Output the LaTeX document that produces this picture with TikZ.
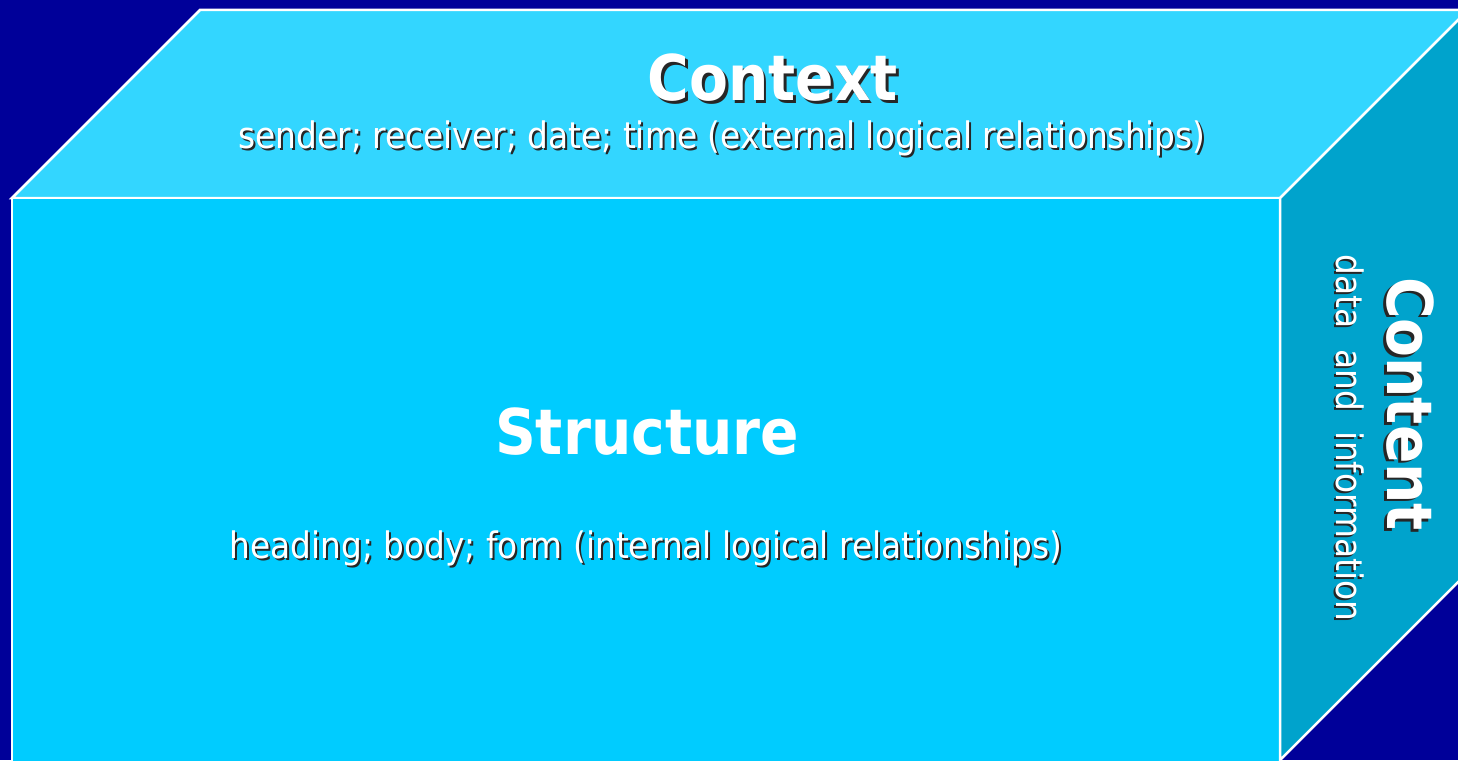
\documentclass[tikz,border=0pt]{standalone}
\usepackage{fontspec}
\setmainfont{DejaVu Sans Condensed}
\usetikzlibrary{positioning}
\definecolor{night}{HTML}{000099}
\definecolor{lid}{HTML}{33D6FF}
\definecolor{front}{HTML}{00CCFF}
\definecolor{side}{HTML}{00A3CC}
\newcommand{\edge}{white}
\tikzset{
  head/.style={font=\fontsize{63}{63}\selectfont\bfseries, text=white, inner sep=0pt},
  note/.style={font=\fontsize{36.5}{36.5}\selectfont, text=white, inner sep=0pt},
  shade/.style={text=black!85}
}

\begin{document}
\begin{tikzpicture}[x=1pt,y=-1pt]

% GRID LINES - COMMENT OUT WHEN DONE
%\draw[step=100,gray,very thin] (0,0) grid (1458,760);

% background
\useasboundingbox (0,0) rectangle (1458,760);
\clip (0,0) rectangle (1458,760);
\fill[night] (0,0) rectangle (1458,760);

% box
\filldraw[fill=lid, draw=\edge, line width=2.5pt] (12,198) --
    (200,10) -- (1468,10) -- (1280,198) -- cycle;
\filldraw[fill=front, draw=\edge, line width=2.5pt] (12,198) --
    (1280,198) -- (1280,764) -- (12,764) -- cycle;
\filldraw[fill=side, draw=\edge, line width=2.5pt] (1280,198) --
    (1468,10) -- (1468,572) -- (1280,760) -- cycle;

% top face
\node[head,shade](contextShadow) at (775.5,80.5){Context};
\node[head](context) at (773,78){Context};
\node[note,shade](senderShadow) at (724,140){sender; receiver; date; time (external logical relationships)};
\node[note](sender) at (722,138){sender; receiver; date; time (external logical relationships)};

% front face
\node[head](structure) at (647,432){Structure};
\node[note,shade](headingShadow) at (648,550){heading; body; form (internal logical relationships)};
\node[note](heading) at (646,548){heading; body; form (internal logical relationships)};

% side face
\node[head,shade,rotate=-90](contentShadow) at (1407.5,406.5){Content};
\node[head,rotate=-90](content) at (1410,404){Content};
\node[note,shade,rotate=-90](dataShadow) at (1348,440){data\ \ and\ \ information};
\node[note,rotate=-90](data) at (1350,438){data\ \ and\ \ information};

\end{tikzpicture}
\end{document}
